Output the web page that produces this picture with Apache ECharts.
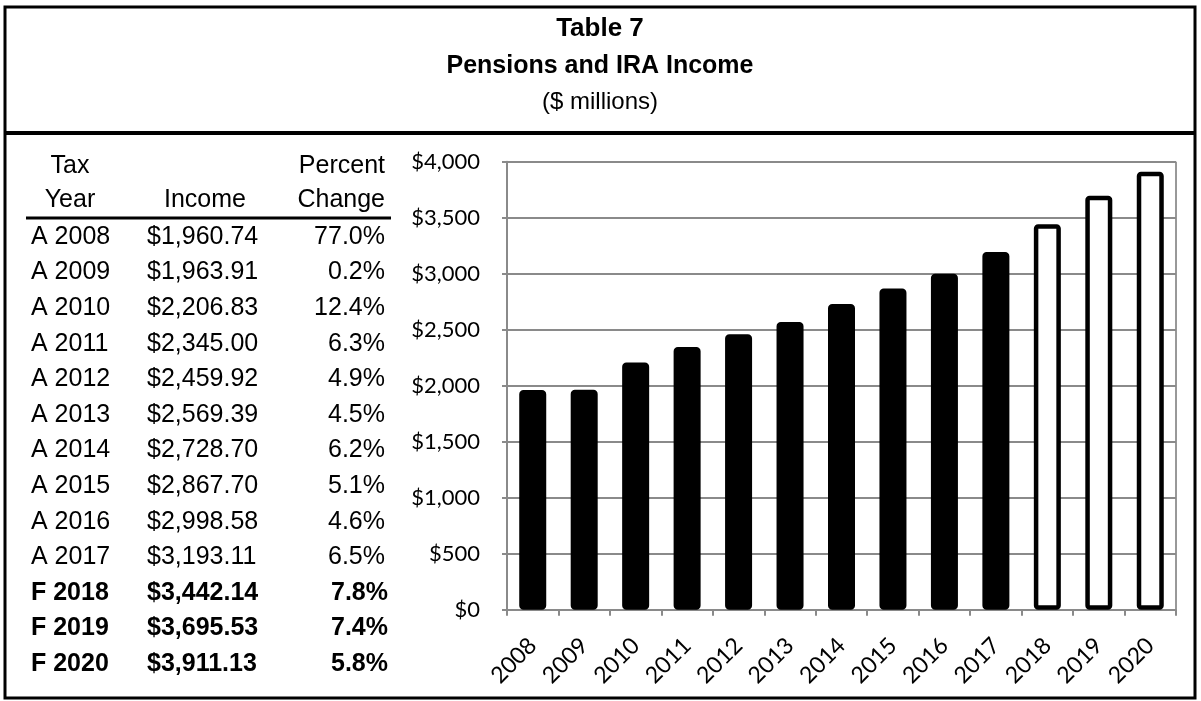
<!DOCTYPE html>
<html>
<head>
<meta charset="utf-8">
<script src="https://cdn.jsdelivr.net/npm/echarts@6/dist/echarts.min.js"></script>
<style>
  html, body { margin: 0; padding: 0; background: #fff; }
  #chart { width: 1201px; height: 701px; }
</style>
</head>
<body>
<div id="chart"></div>
<script>
// Tax years, actual (A) / forecast (F) flags, income in $ millions and yearly change
const years = ['2008', '2009', '2010', '2011', '2012', '2013', '2014', '2015', '2016', '2017', '2018', '2019', '2020'];
const status = ['A', 'A', 'A', 'A', 'A', 'A', 'A', 'A', 'A', 'A', 'F', 'F', 'F'];
const income = [1960.74, 1963.91, 2206.83, 2345.00, 2459.92, 2569.39, 2728.70, 2867.70, 2998.58, 3193.11, 3442.14, 3695.53, 3911.13];
const pctChange = [77.0, 0.2, 12.4, 6.3, 4.9, 4.5, 6.2, 5.1, 4.6, 6.5, 7.8, 7.4, 5.8];

const titleLines = ['Table 7', 'Pensions and IRA Income', '($ millions)'];
const headerTop = ['Tax', '', 'Percent'];
const headerBottom = ['Year', 'Income', 'Change'];

const yMin = 0, yMax = 4000, yStep = 500;

const TABLE_FONT = 'Liberation Sans, Arial, sans-serif';
const AXIS_FONT = 'Lato, "Open Sans", sans-serif';

function money(v) {
  return '$' + v.toLocaleString('en-US', { minimumFractionDigits: 2, maximumFractionDigits: 2 });
}
function axisMoney(v) {
  return '$' + v.toLocaleString('en-US');
}

function txt(text, x, y, opts) {
  return {
    type: 'text',
    silent: true,
    style: Object.assign({
      text: text, x: x, y: y,
      fill: '#000',
      font: '25px ' + TABLE_FONT,
      textAlign: 'left',
      textVerticalAlign: 'middle',
      verticalAlign: 'middle'
    }, opts || {})
  };
}

const graphics = [];

// outer frame and title divider
graphics.push({ type: 'rect', silent: true, shape: { x: 5, y: 7, width: 1190, height: 691 },
  style: { fill: 'none', stroke: '#000', lineWidth: 3 } });
graphics.push({ type: 'line', silent: true, shape: { x1: 5, y1: 133, x2: 1195, y2: 133 },
  style: { stroke: '#000', lineWidth: 4 } });

// title block
graphics.push(txt(titleLines[0], 600, 29, { textAlign: 'center', font: 'bold 26px ' + TABLE_FONT }));
graphics.push(txt(titleLines[1], 600, 66, { textAlign: 'center', font: 'bold 25px ' + TABLE_FONT }));
graphics.push(txt(titleLines[2], 600, 102, { textAlign: 'center', font: '24px ' + TABLE_FONT }));

// table header
const colYearX = 31, colYearCenter = 70, colIncomeX = 147, colIncomeCenter = 205, colPctRight = 385;
graphics.push(txt(headerTop[0], colYearCenter, 166, { textAlign: 'center' }));
graphics.push(txt(headerTop[2], colPctRight, 166, { textAlign: 'right' }));
graphics.push(txt(headerBottom[0], colYearCenter, 200, { textAlign: 'center' }));
graphics.push(txt(headerBottom[1], colIncomeCenter, 200, { textAlign: 'center' }));
graphics.push(txt(headerBottom[2], colPctRight, 200, { textAlign: 'right' }));
graphics.push({ type: 'line', silent: true, shape: { x1: 26, y1: 218, x2: 391, y2: 218 },
  style: { stroke: '#000', lineWidth: 3 } });

// table rows
const rowTop = 237, rowStep = 35.6;
years.forEach(function (yr, i) {
  const y = rowTop + i * rowStep;
  const bold = status[i] === 'F';
  const f = (bold ? 'bold ' : '') + '25px ' + TABLE_FONT;
  graphics.push(txt(status[i] + ' ' + yr, colYearX, y, { font: f }));
  graphics.push(txt(money(income[i]), colIncomeX, y, { font: f }));
  graphics.push(txt(pctChange[i].toFixed(1) + '%', bold ? colPctRight + 3 : colPctRight, y, { font: f, textAlign: 'right' }));
});

// actual years are solid bars, forecast years are hollow
const barData = income.map(function (v, i) {
  return {
    value: v,
    itemStyle: { color: status[i] === 'F' ? '#fff' : '#000' }
  };
});

const chart = echarts.init(document.getElementById('chart'), null, { renderer: 'canvas' });
chart.setOption({
  animation: false,
  backgroundColor: '#fff',
  grid: {
    left: 507, right: 25, top: 161.7, bottom: 91.3,
    show: true, borderColor: '#333', borderWidth: 1, backgroundColor: 'transparent'
  },
  xAxis: {
    type: 'category',
    data: years,
    boundaryGap: true,
    axisLine: { lineStyle: { color: '#8a8a8a', width: 2 } },
    axisTick: { show: true, length: 6, inside: false, alignWithLabel: false, lineStyle: { color: '#8a8a8a', width: 2 } },
    axisLabel: { rotate: 45, margin: 32, color: '#000', fontFamily: AXIS_FONT, fontSize: 23, interval: 0 },
    splitLine: { show: false }
  },
  yAxis: {
    type: 'value',
    min: yMin, max: yMax, interval: yStep,
    axisLine: { show: true, lineStyle: { color: '#8a8a8a', width: 2 } },
    axisTick: { show: true, length: 5, lineStyle: { color: '#8a8a8a', width: 2 } },
    axisLabel: { margin: 27, color: '#000', fontFamily: AXIS_FONT, fontSize: 22, formatter: axisMoney },
    splitLine: { show: true, lineStyle: { color: '#8a8a8a', width: 2 } }
  },
  series: [{
    type: 'bar',
    data: barData,
    barWidth: 27,
    itemStyle: { borderColor: '#000', borderWidth: 4.5, borderRadius: 2, borderJoin: 'round' },
    z: 3
  }],
  graphic: { elements: graphics }
});
</script>
</body>
</html>
